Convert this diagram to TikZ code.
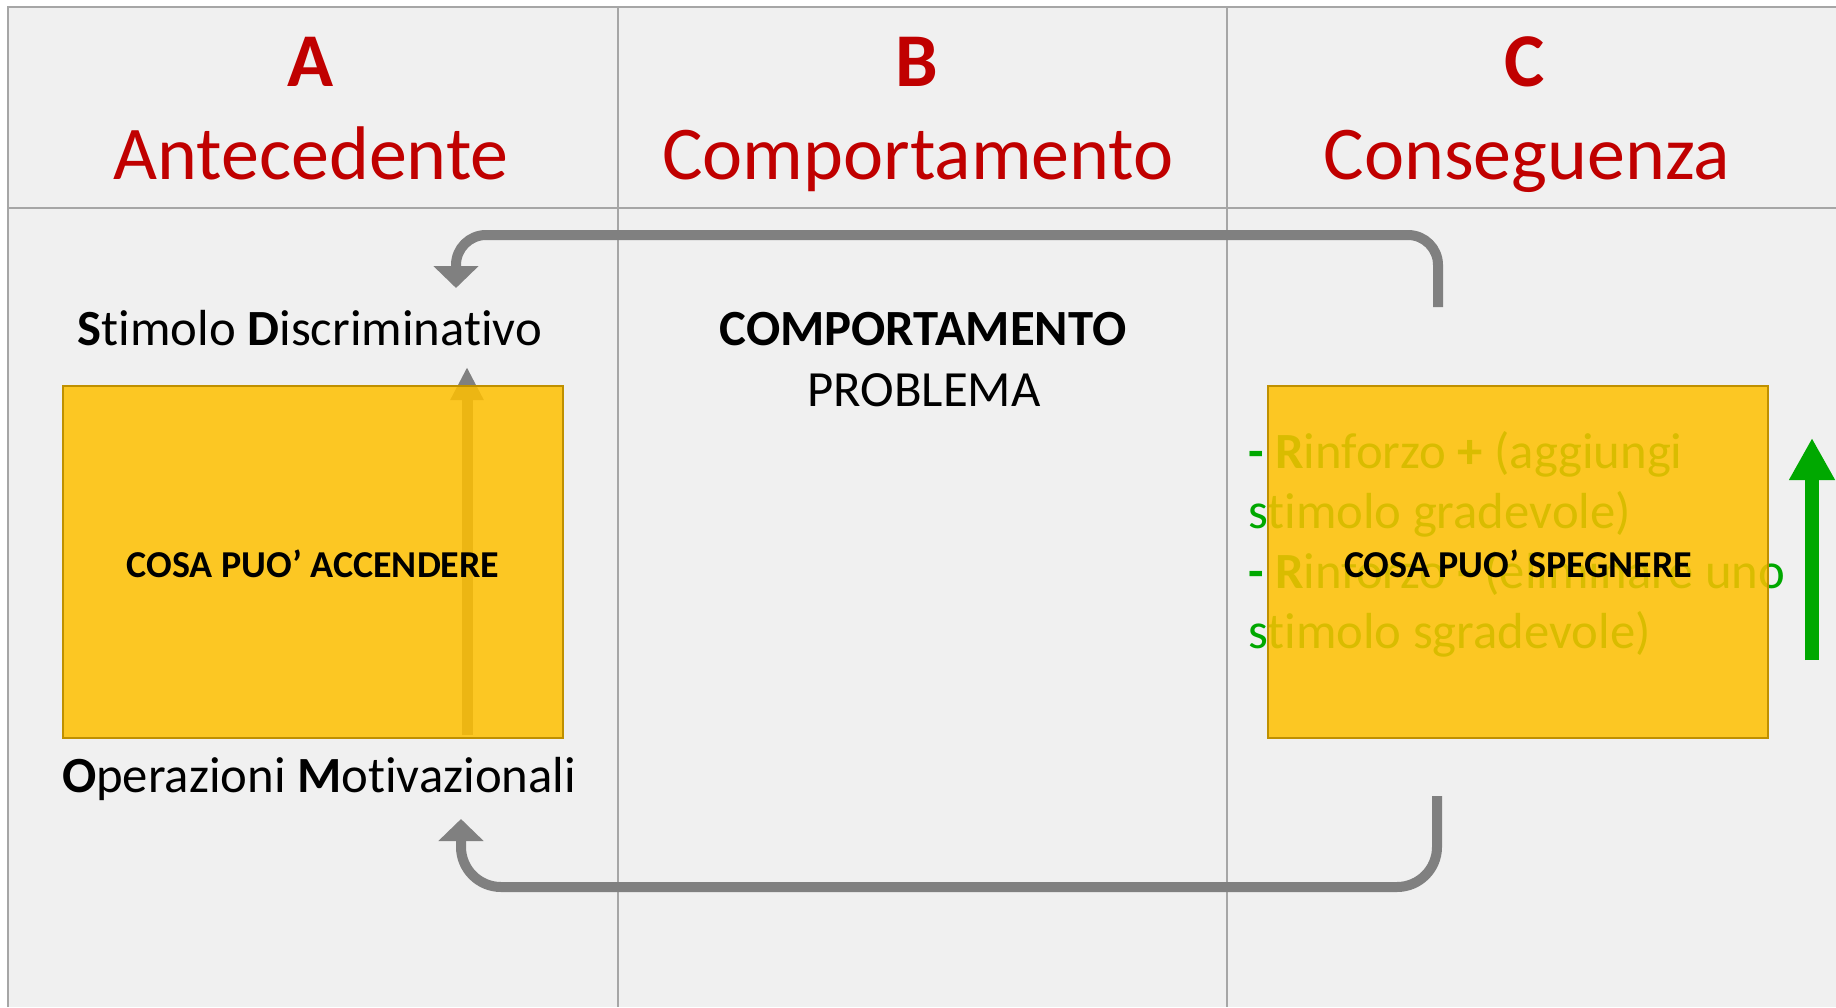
\documentclass[tikz,border=0pt]{standalone}
\usepackage{fontspec}
\setmainfont{Carlito}[Ligatures=NoCommon]
\usetikzlibrary{arrows.meta}
\usetikzlibrary{positioning}

\definecolor{rosso}{RGB}{192,0,0}
\definecolor{sfondo}{RGB}{240,240,240}
\definecolor{griglia}{RGB}{166,166,166}
\definecolor{giallo}{RGB}{255,192,0}
\definecolor{oro}{RGB}{191,144,0}
\definecolor{grigio}{RGB}{128,128,128}
\definecolor{verde}{RGB}{0,168,0}

\tikzset{
    titolo/.style={text=rosso, anchor=base, inner sep=0pt,
        font=\fontsize{76}{93}\selectfont},
    voce/.style={anchor=base, inner sep=0pt,
        font=\fontsize{50.7}{61}\selectfont},
    scatola/.style={draw=oro, line width=2.5pt, fill=giallo, fill opacity=0.85,
        text opacity=1, minimum width=500pt, minimum height=352pt, inner sep=0pt,
        font=\bfseries\fontsize{38}{45}\selectfont},
    ciclo/.style={grigio, line width=10pt, -{Triangle[width=44pt,length=22pt]}},
    rinforzo/.style={text=verde, anchor=base west, inner sep=0pt, align=left,
        font=\fontsize{50.7}{60}\selectfont}
}

\begin{document}
\begin{tikzpicture}[x=1pt, y=-1pt]
        \useasboundingbox (0,0) rectangle (1836,1007);

        % table
        \fill[sfondo] (8,7) rectangle (1836,1007);
        \draw[griglia, line width=2pt] (8,1007) -- (8,7) -- (1836,7);
        \draw[griglia, line width=2pt] (8,208) -- (1836,208);
        \draw[griglia, line width=2pt] (618,7) -- (618,1007);
        \draw[griglia, line width=2pt] (1227,7) -- (1227,1007);

        % headers
        \node[titolo] (lettA) at (311,86) {\bfseries A};
        \node[titolo] (nomeA) at (311,179) {Antecedente};
        \node[titolo] (lettB) at (917,86) {\bfseries B};
        \node[titolo] (nomeB) at (918,179) {Comportamento};
        \node[titolo] (lettC) at (1525,86) {\bfseries C};
        \node[titolo] (nomeC) at (1527,179) {Conseguenza};

        % A (left)
        \node[voce] (sd) at (310,345) {\textbf{S}timolo \textbf{D}iscriminativo};
        \node[voce] (om) at (319,792) {\textbf{O}perazioni \textbf{M}otivazionali};

        \coordinate (fBase) at (467,735);
        \coordinate (fPunta) at (467,367);
        \draw[grigio, line width=11pt, -{Triangle[width=31pt,length=33pt]}] (fBase) -- (fPunta);

        \node[scatola] (accende) at (313,562) {\raisebox{-15pt}[0pt][0pt]{COSA PUO’ ACCENDERE}};

        % B (middle)
        \node[voce] (comp) at (923,345) {\textbf{COMPORTAMENTO}};
        \node[voce] (prob) at (924,406) {PROBLEMA};

        % C (right)
        \node[rinforzo] (rinf) at (1248,648) {\textbf{- R}inforzo \textbf{+} (aggiungi\\stimolo gradevole)\\\textbf{- R}inforzo \textbf{-} (eliminare uno\\stimolo sgradevole)};

        \node[scatola] (spegne) at (1518,562) {\raisebox{-15pt}[0pt][0pt]{COSA PUO’ SPEGNERE}};

        \coordinate (vBase) at (1812,660);
        \coordinate (vPunta) at (1812,438);
        \draw[verde, line width=14pt, -{Triangle[width=43pt,length=42pt]}] (vBase) -- (vPunta);

        % loops back to A
        \coordinate (cSu) at (1438,307);
        \coordinate (aSu) at (456,288);
        \draw[ciclo, rounded corners=30pt] (cSu) -- ++(0,-72) -| (aSu);

        \coordinate (cGiu) at (1437,796);
        \coordinate (aGiu) at (461,819);
        \draw[ciclo, rounded corners=40pt] (cGiu) -- ++(0,91) -| (aGiu);

    \end{tikzpicture}
\end{document}
